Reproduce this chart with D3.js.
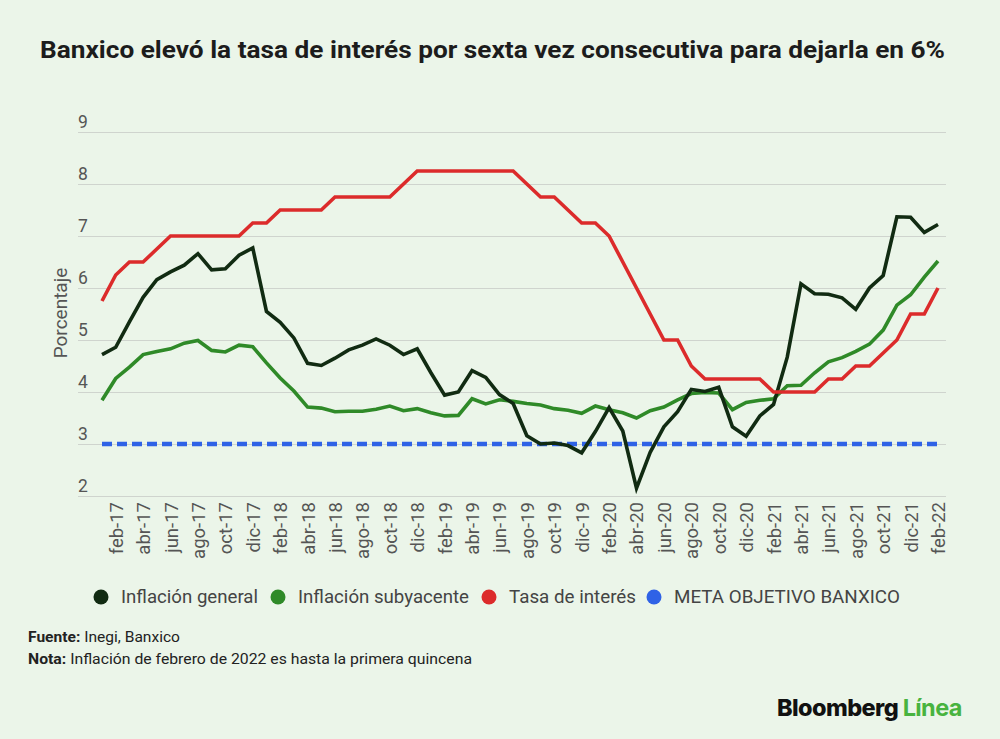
<!DOCTYPE html>
<html>
<head>
<meta charset="utf-8">
<script src="https://cdn.jsdelivr.net/npm/d3@7"></script>
<style>
  body { margin: 0; background: #ebf5e9; }
  svg { display: block; font-family: Roboto, "Noto Sans", sans-serif; }
</style>
</head>
<body>
<svg id="chart"></svg>
<script>
// meses ene-17 .. feb-22
const months = [
  "ene-17","feb-17","mar-17","abr-17","may-17","jun-17","jul-17","ago-17","sep-17","oct-17","nov-17","dic-17",
  "ene-18","feb-18","mar-18","abr-18","may-18","jun-18","jul-18","ago-18","sep-18","oct-18","nov-18","dic-18",
  "ene-19","feb-19","mar-19","abr-19","may-19","jun-19","jul-19","ago-19","sep-19","oct-19","nov-19","dic-19",
  "ene-20","feb-20","mar-20","abr-20","may-20","jun-20","jul-20","ago-20","sep-20","oct-20","nov-20","dic-20",
  "ene-21","feb-21","mar-21","abr-21","may-21","jun-21","jul-21","ago-21","sep-21","oct-21","nov-21","dic-21",
  "ene-22","feb-22"
];

const inflacionGeneral = [
  4.72,4.86,5.35,5.82,6.16,6.31,6.44,6.66,6.35,6.37,6.63,6.77,
  5.55,5.34,5.04,4.55,4.51,4.65,4.81,4.90,5.02,4.90,4.72,4.83,
  4.37,3.94,4.00,4.41,4.28,3.95,3.78,3.16,3.00,3.02,2.97,2.83,
  3.24,3.70,3.25,2.15,2.84,3.33,3.62,4.05,4.01,4.09,3.33,3.15,
  3.54,3.76,4.67,6.08,5.89,5.88,5.81,5.59,6.00,6.24,7.37,7.36,
  7.07,7.22
];

const inflacionSubyacente = [
  3.84,4.26,4.48,4.72,4.78,4.83,4.94,4.99,4.80,4.77,4.90,4.87,
  4.56,4.27,4.02,3.71,3.69,3.62,3.63,3.63,3.67,3.73,3.64,3.68,
  3.60,3.54,3.55,3.87,3.77,3.85,3.82,3.78,3.75,3.68,3.65,3.59,
  3.73,3.66,3.60,3.50,3.64,3.71,3.85,3.97,3.99,3.98,3.66,3.80,
  3.84,3.87,4.12,4.13,4.37,4.58,4.66,4.78,4.92,5.19,5.67,5.87,
  6.21,6.52
];

const tasaInteres = [
  5.75,6.25,6.5,6.5,6.75,7.0,7.0,7.0,7.0,7.0,7.0,7.25,
  7.25,7.5,7.5,7.5,7.5,7.75,7.75,7.75,7.75,7.75,8.0,8.25,
  8.25,8.25,8.25,8.25,8.25,8.25,8.25,8.0,7.75,7.75,7.5,7.25,
  7.25,7.0,6.5,6.0,5.5,5.0,5.0,4.5,4.25,4.25,4.25,4.25,
  4.25,4.0,4.0,4.0,4.0,4.25,4.25,4.5,4.5,4.75,5.0,5.5,
  5.5,6.0
];

const metaBanxico = months.map(() => 3);

const yTicks = [2, 3, 4, 5, 6, 7, 8, 9];

const series = [
  { name: "Inflación general", values: inflacionGeneral, color: "#112b12" },
  { name: "Inflación subyacente", values: inflacionSubyacente, color: "#2f8a28" },
  { name: "Tasa de interés", values: tasaInteres, color: "#dc2b2b" },
  { name: "META OBJETIVO BANXICO", values: metaBanxico, color: "#2f62e6", dash: "10,5" }
];

const width = 1000, height = 739;
const svg = d3.select("#chart").attr("width", width).attr("height", height);

svg.append("rect").attr("width", width).attr("height", height).attr("fill", "#ebf5e9");

// titulo
svg.append("text")
  .attr("x", 40).attr("y", 58)
  .attr("font-size", 23.5).attr("font-weight", 700).attr("fill", "#1c1c1c")
  .attr("textLength", 905).attr("lengthAdjust", "spacingAndGlyphs")
  .text("Banxico elevó la tasa de interés por sexta vez consecutiva para dejarla en 6%");

const x = d3.scaleLinear().domain([0, months.length - 1]).range([102, 938]);
const y = d3.scaleLinear().domain([2, 9]).range([496, 132]);

// grid + etiquetas eje y
const yAxis = svg.append("g")
  .attr("transform", "translate(78,0)")
  .call(d3.axisRight(y).tickValues(yTicks).tickSize(868).tickFormat(d3.format("d")));
yAxis.select(".domain").remove();
yAxis.selectAll(".tick line").attr("stroke", "#cfd4ce").attr("stroke-width", 1.2);
yAxis.selectAll(".tick text")
  .attr("x", 0).attr("dy", -5)
  .attr("text-anchor", "start")
  .attr("font-size", 17.5).attr("fill", "#555")
  .attr("font-family", "Roboto, sans-serif");

svg.append("text")
  .attr("transform", "translate(67,313) rotate(-90)")
  .attr("text-anchor", "middle")
  .attr("font-size", 19).attr("fill", "#555")
  .text("Porcentaje");

// eje x
const tickIdx = d3.range(1, months.length, 2);
const xAxis = svg.append("g")
  .attr("transform", "translate(0,496)")
  .call(d3.axisBottom(x).tickValues(tickIdx).tickSize(0).tickFormat(i => months[i]));
xAxis.select(".domain").remove();
xAxis.selectAll(".tick text")
  .attr("transform", "rotate(-90)")
  .attr("x", -6).attr("y", 0).attr("dy", "0.35em")
  .attr("text-anchor", "end")
  .attr("font-size", 18.5).attr("fill", "#555")
  .attr("font-family", "Roboto, sans-serif");

// lineas
const line = d3.line().x((d, i) => x(i)).y(d => y(d));
svg.selectAll(".serie")
  .data([series[3], series[1], series[0], series[2]])
  .enter()
  .append("path")
  .attr("class", "serie")
  .attr("d", d => line(d.values))
  .attr("fill", "none")
  .attr("stroke", d => d.color)
  .attr("stroke-width", d => d.dash ? 4.5 : 3.6)
  .attr("stroke-dasharray", d => d.dash || null)
  .attr("stroke-linejoin", "miter");

// leyenda
const legendX = [101, 278, 489, 654];
const legendW = [137, 171, 127, 226];
const legend = svg.selectAll(".leg")
  .data(series)
  .enter()
  .append("g")
  .attr("transform", (d, i) => `translate(${legendX[i]},597)`);
legend.append("circle").attr("r", 7.5).attr("fill", d => d.color);
legend.append("text")
  .attr("x", 20).attr("dy", "0.36em")
  .attr("font-size", 17.5).attr("fill", "#444")
  .attr("textLength", (d, i) => legendW[i]).attr("lengthAdjust", "spacingAndGlyphs")
  .text(d => d.name);

// notas
const notas = [
  ["Fuente:", " Inegi, Banxico", 642, 152],
  ["Nota:", " Inflación de febrero de 2022 es hasta la primera quincena", 664, 444]
];
notas.forEach(n => {
  const t = svg.append("text").attr("x", 28).attr("y", n[2]).attr("font-size", 14.8).attr("fill", "#222")
    .attr("textLength", n[3]).attr("lengthAdjust", "spacingAndGlyphs");
  t.append("tspan").attr("font-weight", 700).text(n[0]);
  t.append("tspan").text(n[1]);
});

// logo
const logo = svg.append("text")
  .attr("x", 777).attr("y", 716)
  .attr("font-family", "Inter, 'Liberation Sans', sans-serif")
  .attr("font-size", 23.5).attr("font-weight", 800).attr("letter-spacing", -0.6);
logo.append("tspan").attr("fill", "#111").text("Bloomberg ");
logo.append("tspan").attr("fill", "#48b33f").attr("font-weight", 700).text("Línea");
</script>
</body>
</html>
